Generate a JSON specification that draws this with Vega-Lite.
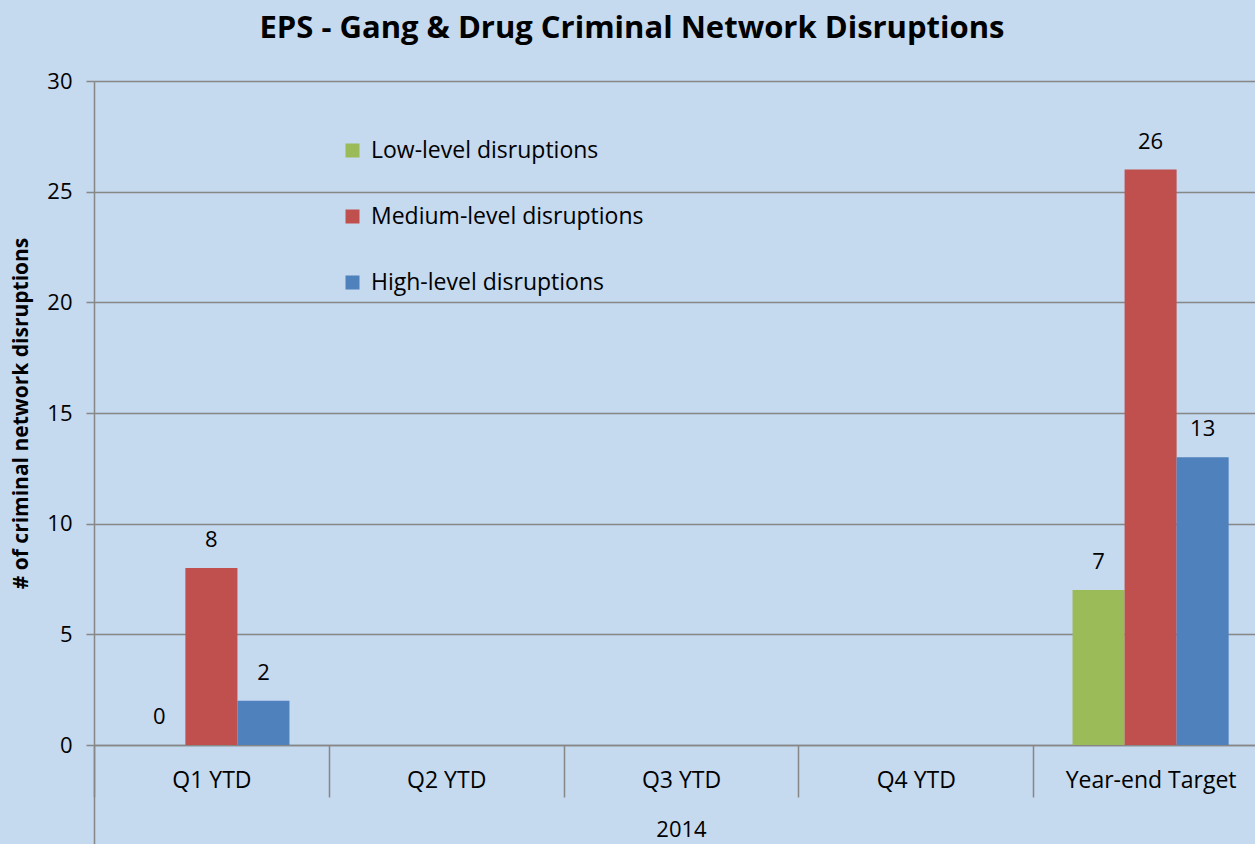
{
  "$schema": "https://vega.github.io/schema/vega-lite/v6.json",
  "width": 1174,
  "height": 664,
  "padding": {"left": 10, "top": 13, "right": 0, "bottom": 0},
  "background": "#c5d9ef",
  "config": {
    "font": "Open Sans",
    "view": {"stroke": null},
    "axis": {"labelColor": "#000000", "titleColor": "#000000", "labelFont": "Open Sans", "titleFont": "Open Sans"}
  },
  "title": {
    "text": "EPS - Gang & Drug Criminal Network Disruptions",
    "fontSize": 31,
    "fontWeight": "bold",
    "color": "#000000",
    "anchor": "middle",
    "frame": "group",
    "dx": -49,
    "offset": 25
  },
  "data": {
    "values": [
      {"period": "Q1 YTD", "level": "Low-level disruptions", "value": 0},
      {"period": "Q1 YTD", "level": "Medium-level disruptions", "value": 8},
      {"period": "Q1 YTD", "level": "High-level disruptions", "value": 2},
      {"period": "Year-end Target", "level": "Low-level disruptions", "value": 7},
      {"period": "Year-end Target", "level": "Medium-level disruptions", "value": 26},
      {"period": "Year-end Target", "level": "High-level disruptions", "value": 13}
    ]
  },
  "encoding": {
    "xOffset": {
      "field": "level",
      "type": "nominal",
      "scale": {"domain": ["Low-level disruptions", "Medium-level disruptions", "High-level disruptions"], "paddingInner": 0, "paddingOuter": 0.756}
    },
    "y": {
      "field": "value",
      "type": "quantitative",
      "scale": {"domain": [0, 30], "nice": false},
      "axis": {
        "values": [0, 5, 10, 15, 20, 25, 30],
        "title": "# of criminal network disruptions",
        "titleFontSize": 21,
        "titleFontWeight": "bold",
        "titlePadding": 15,
        "labelFontSize": 22,
        "labelPadding": 14,
        "tickSize": 8,
        "tickColor": "#878787",
        "tickWidth": 1.5,
        "domainColor": "#878787",
        "domainWidth": 1.5,
        "grid": true,
        "gridColor": "#878787",
        "gridWidth": 1.5,
        "gridOpacity": 1
      }
    }
  },
  "layer": [
    {
      "mark": {"type": "bar"},
      "encoding": {
        "x": {
          "field": "period",
          "type": "nominal",
          "scale": {"domain": ["Q1 YTD", "Q2 YTD", "Q3 YTD", "Q4 YTD", "Year-end Target"], "paddingInner": 0, "paddingOuter": 0},
          "axis": {
            "orient": "bottom",
            "tickBand": "extent",
            "tickSize": 52,
            "tickColor": "#878787",
            "tickWidth": 1.5,
            "domainColor": "#878787",
            "domainWidth": 1.5,
            "labelFontSize": 23,
            "labelPadding": -28,
            "labelAngle": 0,
            "title": "2014",
            "titleFontSize": 22,
            "titleFontWeight": "normal",
            "titlePadding": 22,
            "grid": false
          }
        },
        "color": {
          "field": "level",
          "type": "nominal",
          "scale": {"domain": ["Low-level disruptions", "Medium-level disruptions", "High-level disruptions"], "range": ["#9bbb59", "#c0504d", "#4f81bd"]},
          "legend": {
            "title": null,
            "orient": "none",
            "legendX": 247,
            "legendY": 58,
            "symbolType": "square",
            "symbolSize": 196,
            "symbolStrokeWidth": 0,
            "labelFontSize": 23,
            "labelColor": "#000000",
            "labelOffset": 7,
            "rowPadding": 42,
            "labelLimit": 400
          }
        }
      }
    },
    {
      "mark": {"type": "text", "baseline": "bottom", "dy": -16, "fontSize": 22, "color": "#000000"},
      "encoding": {
        "text": {"field": "value", "type": "quantitative"},
        "x": {
          "field": "period",
          "type": "nominal",
          "axis": {
            "orient": "bottom",
            "values": ["Q1 YTD"],
            "bandPosition": 0,
            "tickSize": 99,
            "tickColor": "#878787",
            "tickWidth": 1.5,
            "labels": false,
            "domain": false,
            "grid": false,
            "title": null
          }
        }
      }
    }
  ],
  "resolve": {"axis": {"x": "independent"}}
}
